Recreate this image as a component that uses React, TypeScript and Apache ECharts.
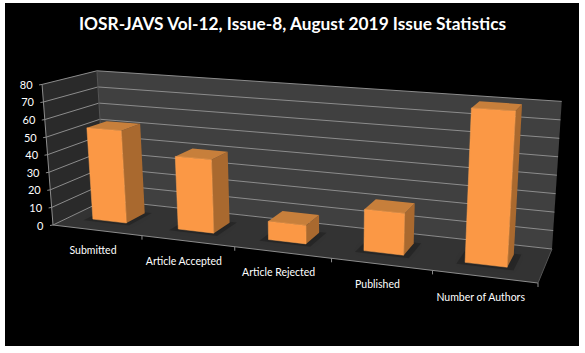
import React, { useEffect, useRef } from "react";
import * as echarts from "echarts";

const titleText = "IOSR-JAVS Vol-12, Issue-8, August 2019 Issue Statistics";
const categories = ["Submitted", "Article Accepted", "Article Rejected", "Published", "Number of Authors"];
const issueValues = [53, 41, 10, 22, 80];
const valueTicks = [0, 10, 20, 30, 40, 50, 60, 70, 80];

type P = [number, number];
const FLOOR: P[] = [[53, 225], [538, 283], [552, 249], [105, 200]];
const VANISH: P = [324, 3706];
const WALL_PX = 141;
const BAR_W = 0.4;
const BAR_SHIFT = -0.006;
const V0 = 0.32;
const V1 = 0.7;
const FONT = "Lato, 'Open Sans', sans-serif";

function homography(q: P[]) {
  const [[x0, y0], [x1, y1], [x2, y2], [x3, y3]] = q;
  const dx1 = x1 - x2, dx2 = x3 - x2, sx = x0 - x1 + x2 - x3;
  const dy1 = y1 - y2, dy2 = y3 - y2, sy = y0 - y1 + y2 - y3;
  const det = dx1 * dy2 - dx2 * dy1;
  const g = (sx * dy2 - dx2 * sy) / det;
  const h = (dx1 * sy - sx * dy1) / det;
  const a = x1 - x0 + g * x1, b = x3 - x0 + h * x3, c = x0;
  const d = y1 - y0 + g * y1, e = y3 - y0 + h * y3, f = y0;
  return (u: number, v: number) => {
    const w = g * u + h * v + 1;
    return { p: [(a * u + b * v + c) / w, (d * u + e * v + f) / w] as P, w };
  };
}
const floorAt = homography(FLOOR);
// u: 0..1 along the front edge, v: 0..1 into the depth, h: 0..1 of the value range
function project(u: number, v: number, h: number): P {
  const { p, w } = floorAt(u, v);
  const dx = p[0] - VANISH[0], dy = p[1] - VANISH[1];
  const len = Math.hypot(dx, dy);
  const px = (WALL_PX / w) * h;
  return [p[0] + (dx / len) * px, p[1] + (dy / len) * px];
}
// the reference's front-edge ticks are spaced a little more evenly than pure perspective
const frontU = (u: number) => u + 0.04 * u * (1 - u);
const poly = (points: P[], style: any) => ({ type: "polygon", shape: { points }, style });
const seg = (a: P, b: P, stroke: string, lineWidth = 1) => ({
  type: "line",
  shape: { x1: a[0], y1: a[1], x2: b[0], y2: b[1] },
  style: { stroke, lineWidth },
});
function scales(params: any, api: any) {
  const g = params.coordSys;
  const U = (cat: number) => (api.coord([cat, 0])[0] - g.x) / g.width;
  const H = (val: number) => (g.y + g.height - api.coord([0, val])[1]) / g.height;
  const band = api.size([1, 0])[0] / g.width;
  return { U, H, band };
}

export default function App() {
  const ref = useRef<HTMLDivElement>(null);
  useEffect(() => {
    document.body.style.margin = "0";
    const chart = echarts.init(ref.current!, null, { renderer: "svg" });
    const grey = "#8c8c8c";
    chart.setOption({
      animation: false,
      backgroundColor: "#ffffff",
      grid: { left: 40, right: 40, top: 60, bottom: 60 },
      xAxis: { type: "category", data: categories, show: false },
      yAxis: { type: "value", min: 0, max: 80, interval: 10, show: false },
      graphic: [
        { type: "rect", z: -10, shape: { x: 5, y: 3, width: 574, height: 343 }, style: { fill: "#000000" } },
        {
          type: "text", z: 10, x: 292.5, y: 23,
          style: { text: titleText, fill: "#ffffff", font: `bold 17.3px ${FONT}`, align: "center", verticalAlign: "middle" },
        },
      ],
      series: [
        {
          type: "custom", name: "walls", silent: true, clip: false, z: 1,
          data: [[0, 0]],
          renderItem: () => ({
            type: "group",
            children: [
              poly([project(0, 0, 0), project(0, 1, 0), project(1, 1, 0), project(1, 0, 0)], { fill: "#333333" }),
              poly([project(0, 0, 0), project(0, 1, 0), project(0, 1, 1), project(0, 0, 1)], { fill: "#2a2a2a" }),
              poly([project(0, 1, 0), project(1, 1, 0), project(1, 1, 1), project(0, 1, 1)], { fill: "#404040" }),
            ],
          }),
        },
        {
          type: "custom", name: "value axis", silent: true, clip: false, z: 2,
          data: valueTicks.map((t) => [0, t]),
          renderItem: (params: any, api: any) => {
            const h = scales(params, api).H(api.value(1));
            const a = project(0, 0, h), b = project(0, 1, h), c = project(1, 1, h);
            return {
              type: "group",
              children: [
                seg(a, b, grey), seg(b, c, grey),
                seg([a[0] - 3, a[1] + 0.5], a, grey),
                {
                  type: "text",
                  style: {
                    text: String(api.value(1)), x: a[0] - 9.5, y: a[1], fill: "#ffffff",
                    font: `11px ${FONT}`, align: "right", verticalAlign: "middle",
                  },
                },
              ],
            };
          },
        },
        {
          type: "custom", name: "axis lines", silent: true, clip: false, z: 2,
          data: [[0, 0]],
          renderItem: () => ({
            type: "group",
            children: [
              seg(project(0, 0, 0), project(0, 0, 1), grey),
              seg(project(0, 0, 0), project(1, 0, 0), grey),
              seg(project(1, 0, 0), project(1, 1, 0), "#555555"),
              seg(project(0, 1, 0), project(0, 1, 1), "#555555"),
            ],
          }),
        },
        {
          type: "custom", name: "category axis", silent: true, clip: false, z: 3,
          data: categories.map((_, i) => [i, 0]),
          renderItem: (params: any, api: any) => {
            const { U, band } = scales(params, api);
            const i = api.value(0);
            const u = U(i);
            const tick = project(frontU(u + band / 2), 0, 0);
            const mid = project(frontU(u), 0, 0);
            return {
              type: "group",
              children: [
                seg(tick, [tick[0], tick[1] + 4], grey),
                {
                  type: "text",
                  style: {
                    text: categories[i], x: mid[0] - 4, y: mid[1] + 20, fill: "#ffffff",
                    font: `10.5px ${FONT}`, align: "center", verticalAlign: "middle",
                  },
                },
              ],
            };
          },
        },
        {
          type: "custom", name: "Issue statistics", silent: true, clip: false, z: 4,
          data: issueValues.map((v, i) => [i, v]),
          encode: { x: 0, y: 1 },
          renderItem: (params: any, api: any) => {
            const { U, H, band } = scales(params, api);
            const c = U(api.value(0)) + BAR_SHIFT;
            const h = H(api.value(1));
            const u0 = c - (band * BAR_W) / 2;
            const u1 = c + (band * BAR_W) / 2;
            const fl = (u: number, v: number) => project(u, v, 0);
            const tp = (u: number, v: number) => project(u, v, h);
            return {
              type: "group",
              children: [
                poly([fl(u0 - 0.014, V0 - 0.07), fl(u1 + 0.014, V0 - 0.07), fl(u1 + 0.014, V1 + 0.03), fl(u0 - 0.014, V1 + 0.03)], {
                  fill: "rgba(0,0,0,0.22)", shadowBlur: 7, shadowColor: "rgba(0,0,0,0.35)",
                }),
                poly([fl(u1, V0), fl(u1, V1), tp(u1, V1), tp(u1, V0)], { fill: "#a9692f" }),
                poly([tp(u0, V0), tp(u1, V0), tp(u1, V1), tp(u0, V1)], { fill: "#c77f3b" }),
                poly([fl(u0, V0), fl(u1, V0), tp(u1, V0), tp(u0, V0)], {
                  fill: "#fb9845", stroke: "#ffa552", lineWidth: 0.5,
                }),
              ],
            };
          },
        },
      ],
    });
    return () => chart.dispose();
  }, []);
  return <div ref={ref} style={{ width: 585, height: 353 }} />;
}
